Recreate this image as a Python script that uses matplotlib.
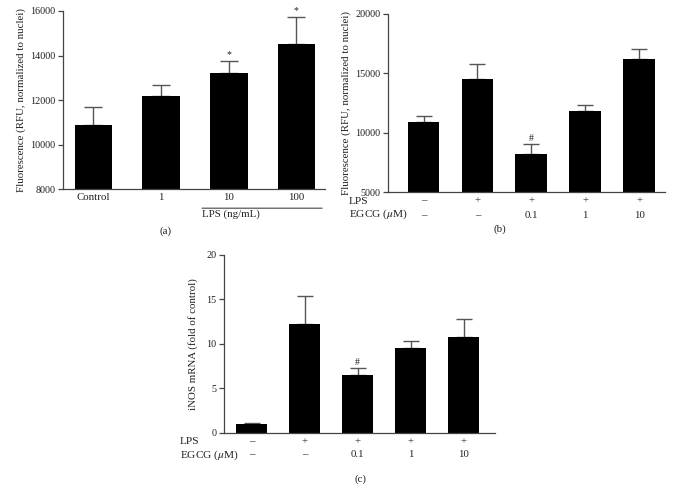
import matplotlib
matplotlib.use("Agg")
import matplotlib.pyplot as plt

plt.rcParams['font.family'] = ['Liberation Serif', 'DejaVu Serif']
plt.rcParams['mathtext.fontset'] = 'stix'

ink = '#231f20'

# panel (a): fluorescence vs LPS dose
a_labels = ['Control', '1', '10', '100']
a_means = [10890, 12190, 13220, 14520]
a_err = [820, 500, 540, 1220]
a_marks = ['', '', '*', '*']

# panel (b): fluorescence, LPS +/- EGCG
b_lps = ['\u2013', '+', '+', '+', '+']
b_egcg = ['\u2013', '\u2013', '0.1', '1', '10']
b_means = [10900, 14520, 8200, 11830, 16180]
b_err = [480, 1240, 840, 480, 840]
b_marks = ['', '', '#', '', '']

# panel (c): iNOS mRNA
c_lps = ['\u2013', '+', '+', '+', '+']
c_egcg = ['\u2013', '\u2013', '0.1', '1', '10']
c_means = [1.05, 12.28, 6.5, 9.52, 10.84]
c_err = [0.05, 3.12, 0.8, 0.78, 2.02]
c_marks = ['', '', '#', '', '']

fs = 7.8
yfs = 7.3

fig = plt.figure(figsize=(6.74, 4.99), dpi=100)


def style(ax):
    for s in ['top', 'right']:
        ax.spines[s].set_visible(False)
    for s in ['left', 'bottom']:
        ax.spines[s].set_color('#444444')
        ax.spines[s].set_linewidth(0.9)
    ax.tick_params(axis='y', direction='out', length=3.5, width=0.9,
                   color='#444444', labelsize=yfs, labelcolor=ink, pad=2)
    ax.tick_params(axis='x', length=0, labelsize=fs, labelcolor=ink)


def bars(ax, means, err, marks, width, cap, off):
    x = list(range(len(means)))
    ax.bar(x, means, width=width, color='black', zorder=2)
    ax.errorbar(x, means, yerr=[[0] * len(err), err], fmt='none',
                ecolor='#555555', elinewidth=1.0, capsize=cap,
                capthick=1.0, zorder=1)
    for i, m in enumerate(marks):
        if m:
            ax.annotate(m, (i, means[i] + err[i]), xytext=(0, off),
                        textcoords='offset points', ha='center',
                        va='bottom', fontsize=fs - 0.8, color=ink)
    return x


# (a)
ax = fig.add_axes([0.0935, 0.621, 0.3885, 0.357])
style(ax)
x = bars(ax, a_means, a_err, a_marks, 0.56, 6.5, 1)
ax.set_ylim(8000, 16000)
ax.set_yticks([8000, 10000, 12000, 14000, 16000])
ax.set_xlim(-0.45, 3.42)
ax.set_xticks(x)
ax.set_xticklabels(a_labels)
ax.tick_params(axis='x', pad=3)
ax.set_ylabel('Fluorescence (RFU, normalized to nuclei)', fontsize=fs,
              color=ink, labelpad=3)
ax.annotate('', xy=(0.52, -0.107), xytext=(1.0, -0.107),
            xycoords='axes fraction',
            arrowprops=dict(arrowstyle='-', color='#444444', lw=0.8))
ax.text(0.64, -0.115, 'LPS (ng/mL)', transform=ax.transAxes, ha='center',
        va='top', fontsize=fs, color=ink)
fig.text(0.245, 1 - 231 / 499, '(a)', ha='center', va='center', fontsize=fs,
         color=ink)

# (b)
ax = fig.add_axes([0.5757, 0.615, 0.4109, 0.357])
style(ax)
x = bars(ax, b_means, b_err, b_marks, 0.59, 6, 0.5)
ax.set_ylim(5000, 20000)
ax.set_yticks([5000, 10000, 15000, 20000])
ax.set_xlim(-0.66, 4.48)
ax.set_xticks([])
ax.set_ylabel('Fluorescence (RFU, normalized to nuclei)', fontsize=fs,
              color=ink, labelpad=3)
for i in x:
    ax.text(i, 4250, b_lps[i], ha='center', va='center', fontsize=fs, color=ink)
    ax.text(i, 3000, b_egcg[i], ha='center', va='center', fontsize=fs, color=ink)
fig.text(349 / 674, 1 - 201 / 499, 'LPS', ha='left', va='center',
         fontsize=fs + 0.4, color=ink)
fig.text(349 / 674, 1 - 214 / 499, 'EGCG ($\\mu$M)', ha='left', va='center',
         fontsize=fs + 0.4, color=ink)
fig.text(500 / 674, 1 - 229 / 499, '(b)', ha='center', va='center',
         fontsize=fs, color=ink)

# (c)
ax = fig.add_axes([0.3323, 0.1323, 0.4021, 0.3567])
style(ax)
x = bars(ax, c_means, c_err, c_marks, 0.58, 5.5, 0.5)
ax.set_ylim(0, 20)
ax.set_yticks([0, 5, 10, 15, 20])
ax.set_xlim(-0.52, 4.59)
ax.set_xticks([])
ax.set_ylabel('iNOS mRNA (fold of control)', fontsize=fs, color=ink,
              labelpad=6)
for i in x:
    ax.text(i, -1.0, c_lps[i], ha='center', va='center', fontsize=fs, color=ink)
    ax.text(i, -2.4, c_egcg[i], ha='center', va='center', fontsize=fs, color=ink)
fig.text(180 / 674, 1 - 442 / 499, 'LPS', ha='left', va='center',
         fontsize=fs + 0.4, color=ink)
fig.text(180 / 674, 1 - 455 / 499, 'EGCG ($\\mu$M)', ha='left', va='center',
         fontsize=fs + 0.4, color=ink)
fig.text(360 / 674, 1 - 479 / 499, '(c)', ha='center', va='center',
         fontsize=fs, color=ink)

fig.savefig('out.png', dpi=100)
